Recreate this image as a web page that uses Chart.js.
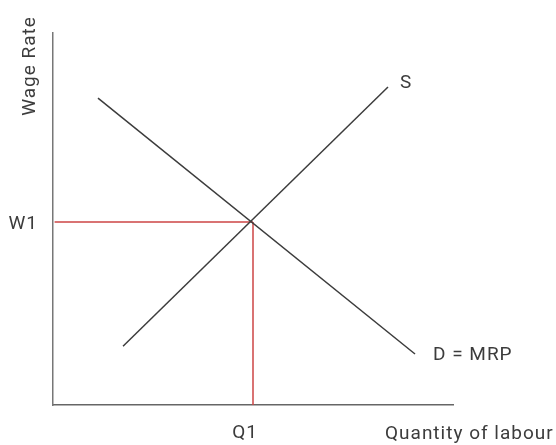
<!DOCTYPE html>
<html>
  <head>
	<title>Labour market</title>
	<meta charset="utf-8">
	<script src="https://cdn.jsdelivr.net/npm/chart.js@4/dist/chart.umd.min.js"></script>
	<style>
	html, body { margin: 0; padding: 0; background: #fff; }
	#wrap { width: 556px; height: 445px; }
	</style>
  </head>
  <body>
	<div id="wrap"><canvas id="chart"></canvas></div>
	<script>
	// the two curves, each a start and end point (x = quantity, y = wage)
	var supply_x = [17.5, 83.75];
	var supply_y = [15.8, 85.5];
	var demand_x = [11.25, 90.5];
	var demand_y = [82.5, 13.7];
	// equilibrium
	var q1 = 50;
	var w1 = 49.2;
	var tick_x = ['Q1'];
	var tick_y = ['W1'];
	var curve_labels = ['S', 'D = MRP'];
	var axis_titles = ['Quantity of labour', 'Wage Rate'];

	var ink = '#3c3c3c';
	var red = '#cc4444';
	var font = 'Roboto, "DejaVu Sans", sans-serif';

	function pts(xs, ys) {
		var out = [];
		for (var i = 0; i < xs.length; i++) out.push({x: xs[i], y: ys[i]});
		return out;
	}

	var labelPlugin = {
		id: 'labels',
		beforeDraw: function (chart) {
			// the original type is a little tracked out
			chart.ctx.letterSpacing = '1px';
		},
		afterDraw: function (chart) {
			var ctx = chart.ctx;
			var xs = chart.scales.x, ys = chart.scales.y;
			var area = chart.chartArea;
			ctx.save();
			ctx.letterSpacing = '1px';
			ctx.fillStyle = ink;
			ctx.font = '19px ' + font;
			ctx.textBaseline = 'middle';
			ctx.textAlign = 'left';
			// curve names next to the upper end of S and lower end of D
			ctx.fillText(curve_labels[0], xs.getPixelForValue(supply_x[1]) + 12, ys.getPixelForValue(supply_y[1]) - 4);
			ctx.fillText(curve_labels[1], xs.getPixelForValue(demand_x[1]) + 18, ys.getPixelForValue(demand_y[1]) + 1);
			// x title sits on the same line as Q1
			ctx.fillText(axis_titles[0], area.right - 68, area.bottom + 29);
			// y title, rotated, top left
			ctx.translate(area.left - 23, area.top + 33);
			ctx.rotate(-Math.PI / 2);
			ctx.textAlign = 'center';
			ctx.fillText(axis_titles[1], 0, 0);
			ctx.restore();
		}
	};

	var chart = new Chart(document.getElementById('chart'), {
		type: 'scatter',
		data: {
			datasets: [{
				data: pts(supply_x, supply_y),
				showLine: true,
				borderColor: ink,
				borderWidth: 1.5
			}, {
				data: pts(demand_x, demand_y),
				showLine: true,
				borderColor: ink,
				borderWidth: 1.5
			}, {
				data: pts([0.4, q1], [w1, w1]),
				showLine: true,
				borderColor: red,
				borderWidth: 1.5
			}, {
				data: pts([q1, q1], [0, w1]),
				showLine: true,
				borderColor: red,
				borderWidth: 1.5
			}]
		},
		options: {
			responsive: true,
			maintainAspectRatio: false,
			animation: false,
			events: [],
			elements: { point: { radius: 0 } },
			layout: { padding: { top: 33, right: 103, left: 0, bottom: 0 } },
			plugins: {
				legend: { display: false },
				tooltip: { enabled: false }
			},
			scales: {
				x: {
					type: 'linear',
					min: 0,
					max: 100,
					afterFit: function (s) { s.height = 40; },
					afterBuildTicks: function (s) { s.ticks = [{value: q1}]; },
					grid: { display: false, drawTicks: false },
					border: { display: true, color: '#666', width: 1.5 },
					ticks: {
						padding: 17,
						labelOffset: -8,
						color: ink,
						font: { family: font, size: 19 },
						callback: function () { return tick_x[0]; }
					}
				},
				y: {
					type: 'linear',
					min: 0,
					max: 100,
					afterFit: function (s) { s.width = 53; },
					afterBuildTicks: function (s) { s.ticks = [{value: w1}]; },
					grid: { display: false, drawTicks: false },
					border: { display: true, color: '#777', width: 1.5 },
					ticks: {
						padding: 15,
						labelOffset: 2,
						color: ink,
						font: { family: font, size: 19 },
						callback: function () { return tick_y[0]; }
					}
				}
			}
		},
		plugins: [labelPlugin]
	});
	</script>
  </body>
</html>
